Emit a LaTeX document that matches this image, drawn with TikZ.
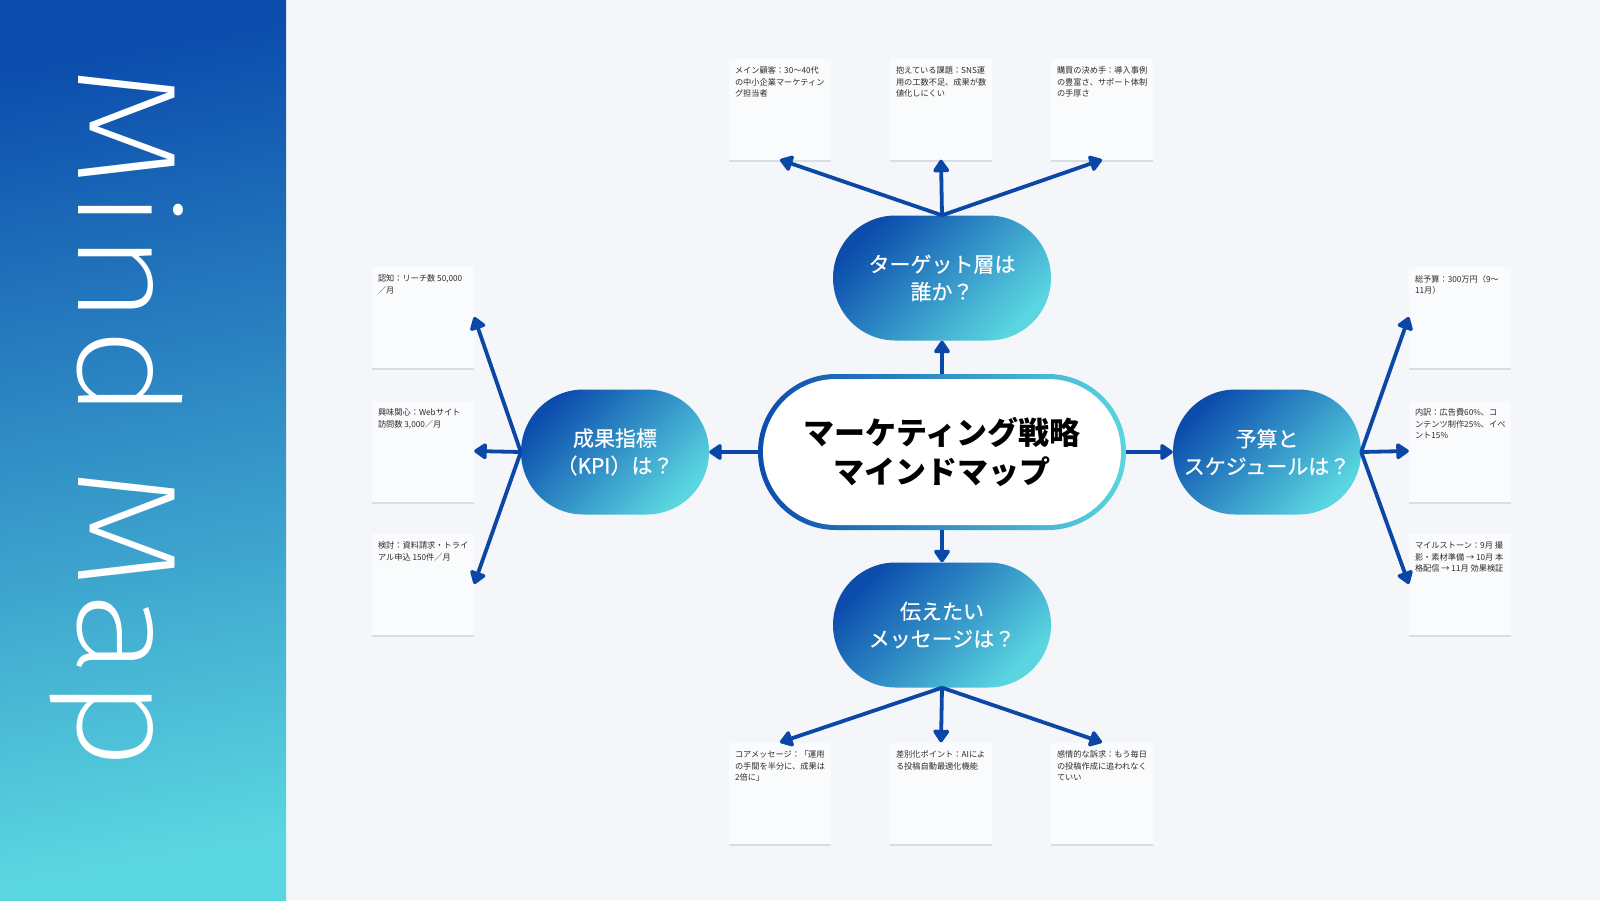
\documentclass[tikz,border=0pt]{standalone}
\usepackage{fontspec}
\setmainfont{Noto Sans CJK JP}
\newfontfamily\thinfont[FakeStretch=1.15]{Fira Sans ExtraLight}
\newfontfamily\branchfont[FakeBold=0.5]{Noto Sans CJK JP}
\usepackage{tikz}
\usetikzlibrary{arrows.meta}
\usetikzlibrary{shadows}
\definecolor{mmdark}{HTML}{0B4CAD}
\definecolor{mmlight}{HTML}{5AD6E0}
\definecolor{arrowblue}{HTML}{0A47A6}
\definecolor{pagebg}{HTML}{F4F6F9}
\definecolor{cardbg}{HTML}{FAFBFC}
\definecolor{cardshadow}{HTML}{D9DEE4}
\definecolor{cardtext}{HTML}{2B2B2B}
\tikzstyle{line} = [draw=arrowblue, -{Triangle[length=14pt,width=18pt,round]}, line width=3.8pt]
\tikzstyle{branch} = [rectangle, rounded corners=62.5pt, minimum width=218pt, minimum height=125pt, inner sep=2pt, top color=mmdark, bottom color=mmlight, shading angle=45, text=white, align=center, font=\branchfont\fontsize{21}{27.5}\selectfont]
\tikzstyle{card} = [rectangle, fill=cardbg, inner sep=6pt, text=cardtext, font=\fontsize{8.2}{11.2}\selectfont, drop shadow={shadow xshift=0pt, shadow yshift=-2.5pt, fill=cardshadow, opacity=1}]
\newcommand{\cardlines}[1]{\parbox[t][89pt][t]{90pt}{\vspace*{2.5pt}\raggedright #1}}

\begin{document}
\begin{tikzpicture}[x=1pt,y=-1pt]
	\tikzstyle{every node}=[font=\fontsize{8.2}{11.2}\selectfont]
	\fill[pagebg] (0,0) rectangle (1600,900);
	\useasboundingbox (0,0) rectangle (1600,900);

	% ------------------- Side bar ------------------- %
	\shade[top color=mmdark, bottom color=mmlight, shading angle=10] (0,0) rectangle (286,900);
	\node[rotate=-90, anchor=base west, inner sep=0pt, text=white, font=\thinfont\fontsize{141}{141}\selectfont] (title) at (78,64) {Mind Map};

	% ------------------- Centre ------------------- %
	\node[rectangle, rounded corners=78pt, minimum width=368pt, minimum height=156pt, left color=mmdark, right color=mmlight] (ctr) at (942,452) {};
	\node[rectangle, rounded corners=73pt, minimum width=358pt, minimum height=146pt, fill=white, align=center, font=\bfseries\fontsize{31}{39}\selectfont] (ctrtxt) at (ctr) {マーケティング戦略\\マインドマップ};

	% ------------------- Branches ------------------- %
	\node[branch] (tgt) at (942,278) {ターゲット層は\\誰か？};
	\node[branch] (msg) at (942,625) {伝えたい\\メッセージは？};
	\node[branch, minimum width=188pt] (kpi) at (615,452) {成果指標\\（KPI）は？};
	\node[branch, minimum width=188pt] (bud) at (1267,452) {予算と\\スケジュールは？};

	% ------------------- Cards ------------------- %
	\node[card] (t1) at (780,109) {\cardlines{メイン顧客：30〜40代\\の中小企業マーケティン\\グ担当者}};
	\node[card] (t2) at (941,109) {\cardlines{抱えている課題：SNS運\\用の工数不足、成果が数\\値化しにくい}};
	\node[card] (t3) at (1102,109) {\cardlines{購買の決め手：導入事例\\の豊富さ、サポート体制\\の手厚さ}};

	\node[card] (b1) at (780,793) {\cardlines{コアメッセージ：「運用\\の手間を半分に、成果は\\2倍に」}};
	\node[card] (b2) at (941,793) {\cardlines{差別化ポイント：AIによ\\る投稿自動最適化機能}};
	\node[card] (b3) at (1102,793) {\cardlines{感情的な訴求：もう毎日\\の投稿作成に追われなく\\ていい}};

	\node[card] (l1) at (423,317) {\cardlines{認知：リーチ数 50,000\\／月}};
	\node[card] (l2) at (423,451) {\cardlines{興味関心：Webサイト\\訪問数 3,000／月}};
	\node[card] (l3) at (423,584) {\cardlines{検討：資料請求・トライ\\アル申込 150件／月}};

	\node[card] (r1) at (1460,317) {\cardlines{総予算：300万円（9〜\\11月）}};
	\node[card] (r2) at (1460,451) {\cardlines{内訳：広告費60\%、コ\\ンテンツ制作25\%、イベ\\ント15\%}};
	\node[card] (r3) at (1460,584) {\cardlines{マイルストーン：9月 撮\\影・素材準備 → 10月 本\\格配信 → 11月 効果検証}};

	% ------------------- Arrows ------------------- %
	\draw[line] (ctr.north) -- (tgt.south);
	\draw[line] (ctr.south) -- (msg.north);
	\draw[line] (ctr.west) -- (kpi.east);
	\draw[line] (ctr.east) -- (bud.west);
	\foreach \c in {t1,t2,t3} \draw[line] (tgt.north) -- (\c.south);
	\foreach \c in {b1,b2,b3} \draw[line] (msg.south) -- (\c.north);
	\foreach \c in {l1,l2,l3} \draw[line] (kpi.west) -- (\c.east);
	\foreach \c in {r1,r2,r3} \draw[line] (bud.east) -- (\c.west);
\end{tikzpicture}
\end{document}
